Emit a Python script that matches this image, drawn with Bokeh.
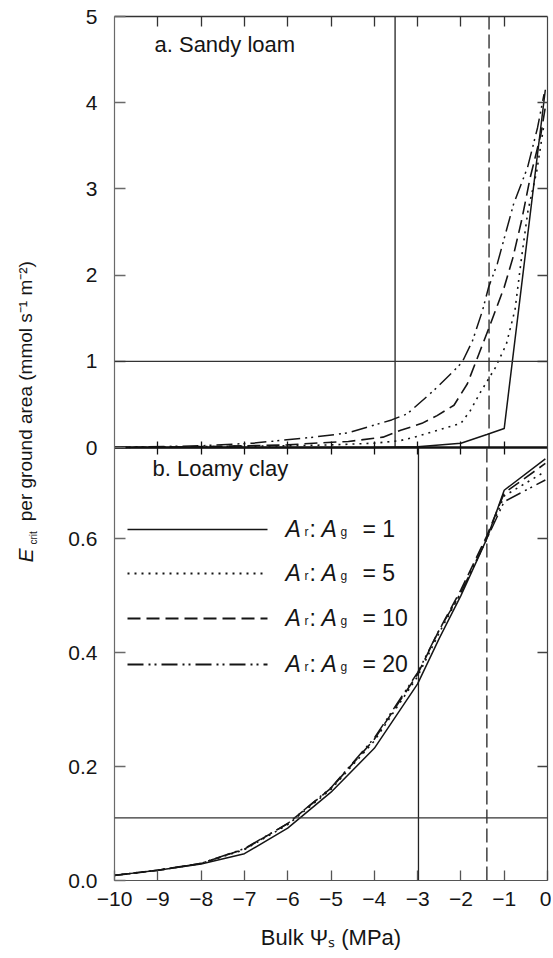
import math
from bokeh.plotting import figure
from bokeh.layouts import row
from bokeh.models import Range1d, LinearAxis, FixedTicker, CustomJSTickFormatter, Label, Span
from bokeh.embed import file_html
from bokeh.resources import INLINE

# ---------------- data ----------------
x_ticks = [-10, -9, -8, -7, -6, -5, -4, -3, -2, -1, 0]
sandy_yticks = [0, 1, 2, 3, 4, 5]
clay_yticks = [0.0, 0.2, 0.4, 0.6]
ratio_labels = ["1", "5", "10", "20"]

# a. Sandy loam  (Ar:Ag = 1, 5, 10, 20)
sandy_x_1 = [-10, -4, -3, -2, -1.4, -1.0, -0.05]
sandy_y_1 = [0.0, 0.0, 0.01, 0.05, 0.15, 0.22, 4.15]
sandy_x_5 = [-10, -8, -6, -5, -4, -3.4, -3.0, -2.4, -2.0, -1.78, -1.55, -1.2, -0.95, -0.75, -0.6, -0.45, -0.25, -0.08]
sandy_y_5 = [0.0, 0.01, 0.02, 0.03, 0.05, 0.08, 0.13, 0.22, 0.28, 0.43, 0.64, 0.93, 1.2, 1.6, 2.2, 2.75, 3.2, 3.75]
sandy_x_10 = [-10, -8, -6, -5.4, -4.6, -3.8, -3.39, -2.9, -2.55, -2.16, -1.85, -1.65, -1.35, -1.0, -0.8, -0.6, -0.4, -0.15, -0.05]
sandy_y_10 = [0.0, 0.01, 0.03, 0.05, 0.07, 0.12, 0.2, 0.28, 0.37, 0.49, 0.74, 1.0, 1.39, 1.86, 2.2, 2.63, 3.13, 3.64, 3.95]
sandy_x_20 = [-10, -8, -6.8, -5.4, -4.6, -3.6, -3.24, -2.63, -2.2, -1.97, -1.73, -1.5, -1.36, -1.16, -0.78, -0.46, -0.23, -0.08]
sandy_y_20 = [0.0, 0.02, 0.05, 0.12, 0.17, 0.32, 0.39, 0.66, 0.87, 0.99, 1.24, 1.59, 1.86, 2.13, 2.83, 3.25, 3.71, 4.1]
sandy_vline_solid = -3.52
sandy_vline_dashed = -1.35
sandy_hline = 1.0

# b. Loamy clay
clay_x = [-10, -9, -8, -7, -6, -5, -4, -3, -2.5, -2, -1.4, -1.0, -0.05]
clay_y_1 = [0.009, 0.018, 0.029, 0.047, 0.092, 0.155, 0.232, 0.345, 0.425, 0.50, 0.60, 0.685, 0.74]
clay_y_5 = [0.009, 0.018, 0.030, 0.054, 0.098, 0.160, 0.245, 0.358, 0.435, 0.505, 0.60, 0.675, 0.718]
clay_y_10 = [0.009, 0.018, 0.030, 0.055, 0.100, 0.162, 0.248, 0.362, 0.44, 0.51, 0.605, 0.68, 0.732]
clay_y_20 = [0.009, 0.018, 0.030, 0.056, 0.100, 0.163, 0.250, 0.365, 0.44, 0.505, 0.60, 0.665, 0.703]
clay_vline_solid = -2.98
clay_vline_dashed = -1.4
clay_hline = 0.11

x_title = "Bulk \u03a8\u209b (MPa)"
y_title_rest = "per ground area  (mmol s\u207b\u00b9 m\u207b\u00b2)"

# ---------------- layout constants ----------------
FONT = "Liberation Sans"
INK = "#151515"
FRAME_W, TOP_H, BOT_H = 433, 431, 433
YLAB_W = 48
LEFT, RIGHT, TOP, BOTTOM = 66, 4, 16, 76
TOTAL_H = TOP + TOP_H + BOT_H + BOTTOM   # 956
FRAME_TOP, FRAME_BOTTOM = TOP, TOP + TOP_H + BOT_H   # page rows of the shared frame
TOP_MAX, BOT_MAX = 5.0, 0.76
S = TOP_MAX * BOT_H / TOP_H          # depth of the lower panel in upper-panel units
MID = 0.35                           # baseline -> text middle, in em

DASHES = ["solid", "2 5", "13 6", "16 5 2 4 2 5"]


# page-pixel -> data helpers (annotation placement only)
def xd(px):
    return -10 + (px - 114) * 10.0 / FRAME_W


def yt(py):
    return (447 - py) * TOP_MAX / TOP_H


def yb(py):
    return (880 - py) * BOT_MAX / BOT_H


def clay_to_main(v):
    return -S * (1 - v / BOT_MAX)


p = figure(frame_width=FRAME_W, frame_height=TOP_H + BOT_H,
           x_range=Range1d(-10, 0),
           y_range=Range1d(-S, TOP_MAX),
           x_axis_type=None, y_axis_type=None,
           output_backend="svg", toolbar_location=None,
           min_border_left=LEFT, min_border_right=RIGHT,
           min_border_top=TOP, min_border_bottom=BOTTOM)
p.extra_y_ranges = {"bot": Range1d(0, BOT_MAX * (TOP_H + BOT_H) / BOT_H)}
p.outline_line_color = None
p.background_fill_color = "white"
p.border_fill_color = "white"


def blank():
    return CustomJSTickFormatter(code="return '';")


def style_axis(ax, tin, tout, color, lw, labels=True, size="21px", standoff=10):
    ax.major_tick_in = tin
    ax.major_tick_out = tout
    ax.minor_tick_in = 0
    ax.minor_tick_out = 0
    ax.axis_line_color = color
    ax.axis_line_width = lw
    ax.major_tick_line_color = color
    ax.major_tick_line_width = 1.3
    ax.minor_tick_line_color = None
    if labels:
        ax.major_label_text_font = FONT
        ax.major_label_text_font_size = size
        ax.major_label_text_color = INK
        ax.major_label_standoff = standoff
    else:
        ax.formatter = blank()
        ax.major_label_text_font_size = "0px"
        ax.major_label_standoff = 0


# left axis: upper-panel ticks + lower-panel ticks (lower values mapped onto the shared frame)
left_ticks = list(sandy_yticks) + [clay_to_main(v) for v in clay_yticks]
ax_l = LinearAxis(ticker=FixedTicker(ticks=left_ticks, minor_ticks=[]),
                  formatter=CustomJSTickFormatter(
                      args=dict(S=S, B=BOT_MAX),
                      code="if (tick >= -1e-9) { return tick.toFixed(0); } "
                           "return (B * (1 + tick / S)).toFixed(1);"))
style_axis(ax_l, 11, 0, "#6a6a6a", 1.2, standoff=17)
p.add_layout(ax_l, "left")

# bottom axis (labelled, with title)
ax_b = LinearAxis(ticker=FixedTicker(ticks=x_ticks, minor_ticks=[]),
                  formatter=CustomJSTickFormatter(
                      code="return tick < 0 ? '\u2212' + Math.abs(tick) : tick.toFixed(0);"))
style_axis(ax_b, 10, 0, "#555555", 1.2, standoff=11)
ax_b.axis_label = x_title
ax_b.axis_label_text_font = FONT
ax_b.axis_label_text_font_size = "22px"
ax_b.axis_label_text_font_style = "normal"
ax_b.axis_label_text_color = INK
ax_b.axis_label_standoff = 16
p.add_layout(ax_b, "below")

# top axis
ax_t = LinearAxis(ticker=FixedTicker(ticks=x_ticks[1:-1], minor_ticks=[]))
style_axis(ax_t, 10, 0, "#333333", 1.3, labels=False)
p.add_layout(ax_t, "above")

# panel boundary axis (thick, ticks both ways)
ax_mid = LinearAxis(ticker=FixedTicker(ticks=x_ticks[1:-1], minor_ticks=[]), fixed_location=0)
style_axis(ax_mid, 7, 6, "#111111", 2.6, labels=False)
p.add_layout(ax_mid, "above")

# right axis
right_ticks = list(sandy_yticks[1:-1]) + [clay_to_main(v) for v in clay_yticks[1:]]
ax_r = LinearAxis(ticker=FixedTicker(ticks=right_ticks, minor_ticks=[]))
style_axis(ax_r, 10, 0, "#444444", 1.2, labels=False)
p.add_layout(ax_r, "right")

# reference lines
p.add_layout(Span(location=sandy_hline, dimension="width", line_color="#333333", line_width=1.2))
p.add_layout(Span(location=clay_hline, dimension="width", y_range_name="bot",
                  line_color="#333333", line_width=1.2))
p.segment(x0=[sandy_vline_solid], y0=[0], x1=[sandy_vline_solid], y1=[TOP_MAX],
          line_color="#222222", line_width=1.3)
p.segment(x0=[sandy_vline_dashed], y0=[0], x1=[sandy_vline_dashed], y1=[TOP_MAX],
          line_color="#222222", line_width=1.3, line_dash="14 5")
p.segment(x0=[clay_vline_solid], y0=[0], x1=[clay_vline_solid], y1=[BOT_MAX],
          line_color="#222222", line_width=1.3, y_range_name="bot")
p.segment(x0=[clay_vline_dashed], y0=[0], x1=[clay_vline_dashed], y1=[BOT_MAX],
          line_color="#222222", line_width=1.3, line_dash="14 5", y_range_name="bot")

# curves
sandy = [(sandy_x_1, sandy_y_1), (sandy_x_5, sandy_y_5), (sandy_x_10, sandy_y_10), (sandy_x_20, sandy_y_20)]
clay = [clay_y_1, clay_y_5, clay_y_10, clay_y_20]
widths = [1.5, 1.6, 1.6, 1.5]
for (sx, sy), cy, dash, w in zip(sandy, clay, DASHES, widths):
    p.line(sx, sy, line_color=INK, line_width=w, line_dash=dash)
    p.line(clay_x, cy, line_color=INK, line_width=w, line_dash=dash, y_range_name="bot")


def add_label(fig, text, x, y, size, style="normal", angle=0.0, yname="default", align="left"):
    fig.add_layout(Label(x=x, y=y, text=text, y_range_name=yname, angle=angle,
                         text_font=FONT, text_font_size=f"{size}px", text_font_style=style,
                         text_color=INK, text_align=align, text_baseline="middle"))


# legend keys + labels (baseline given in page pixels, converted to text middle)
legend_rows = [529, 573, 618, 664]
for rowy, lab, dash, w in zip(legend_rows, ratio_labels, DASHES, widths):
    p.segment(x0=[xd(127)], y0=[yb(rowy)], x1=[xd(267)], y1=[yb(rowy)], y_range_name="bot",
              line_color=INK, line_width=w + (0.4 if dash != "solid" else 0), line_dash=dash)
    base = rowy + 8
    x0 = 285
    parts = [("A", 23, "italic", 0, 0), ("r", 12, "normal", 19, -1), (":", 23, "normal", 24, 0),
             ("A", 23, "italic", 36, 0), ("g", 12, "normal", 55, -1), ("= " + lab, 23, "normal", 77, 0)]
    for t, s, st, dx, dy in parts:
        add_label(p, t, xd(x0 + dx), yb(base + dy - MID * s), s, st, yname="bot")

# panel titles
add_label(p, "a. Sandy loam", xd(154), yt(52 - MID * 22), 22)
add_label(p, "b. Loamy clay", xd(152), yb(476 - MID * 22), 22, yname="bot")

# y-axis title (rotated) in its own strip; the strip's frame is aligned by the row layout
# with the main frame (page rows FRAME_TOP..FRAME_BOTTOM), so its y range uses -page_y.
ylab = figure(width=YLAB_W, height=TOTAL_H, x_range=Range1d(0, YLAB_W),
              y_range=Range1d(-FRAME_BOTTOM, -FRAME_TOP),
              x_axis_type=None, y_axis_type=None, output_backend="svg",
              toolbar_location=None, min_border=0, min_border_left=0, min_border_right=0,
              min_border_top=0, min_border_bottom=0)
ylab.outline_line_color = None
ylab.background_fill_color = "white"
ylab.border_fill_color = "white"

BASE_X = 32
add_label(ylab, "E", BASE_X - MID * 21, -562, 21, "italic", angle=math.pi / 2)
add_label(ylab, "crit", BASE_X + 4.5 - MID * 10, -544, 10, angle=math.pi / 2)
add_label(ylab, y_title_rest, BASE_X - MID * 19, -388, 19, angle=math.pi / 2, align="center")

layout = row(ylab, p, spacing=0)

with open("out.html", "w", encoding="utf-8") as f:
    f.write(file_html(layout, INLINE))
